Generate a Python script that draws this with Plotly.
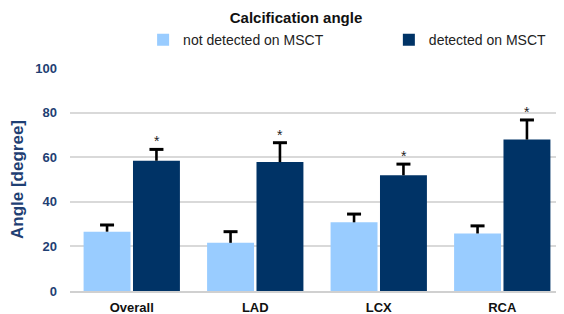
import plotly.graph_objects as go

categories = ["Overall", "LAD", "LCX", "RCA"]
not_detected = [26.6, 21.6, 30.8, 25.8]
not_detected_err = [3.0, 5.0, 3.7, 3.4]
detected = [58.4, 57.8, 51.9, 67.9]
detected_err = [5.1, 8.7, 5.0, 8.8]
series_names = ["not detected on MSCT", "detected on MSCT"]
y_ticks = [0, 20, 40, 60, 80, 100]

LIGHT = "#99CCFF"
DARK = "#003366"
NAVY = "#1F3F73"
FONT = "Liberation Sans, Arial, sans-serif"

# The page body adds an 8px margin, so the figure is drawn 8px smaller
W, H = 556, 306

fig = go.Figure()
series = [
    (series_names[0], not_detected, not_detected_err, LIGHT, "legend", "g1"),
    (series_names[1], detected, detected_err, DARK, "legend2", "g2"),
]
for name, vals, errs, col, leg, grp in series:
    # bar with the error-bar stem only (no caps)
    fig.add_trace(go.Bar(
        x=categories, y=vals, name=name, legend=leg, offsetgroup=grp,
        marker=dict(color=col, line=dict(width=0)),
        error_y=dict(type="data", array=errs, symmetric=False,
                     arrayminus=[0] * len(categories), color="black", thickness=2.6, width=0),
    ))
for name, vals, errs, col, leg, grp in series:
    # top cap of the error bar (T shape)
    fig.add_trace(go.Scatter(
        x=categories, y=[v + e for v, e in zip(vals, errs)], mode="markers",
        offsetgroup=grp, showlegend=False, hoverinfo="skip",
        marker=dict(symbol="line-ew", size=10, color="black",
                    line=dict(color="black", width=3)),
    ))

for i, c in enumerate(categories):
    fig.add_annotation(
        x=c, y=detected[i] + detected_err[i], xref="x", yref="y",
        text="*", showarrow=False, xshift=25, yshift=8,
        font=dict(family=FONT, size=14, color="#222222"),
    )

legend_common = dict(orientation="h", yref="container", y=0.895, yanchor="middle",
                     xref="container", xanchor="left", itemwidth=30,
                     font=dict(family=FONT, size=14, color="#222222"),
                     bgcolor="rgba(0,0,0,0)")

fig.update_layout(
    width=W, height=H,
    margin=dict(l=62, r=0, t=60, b=23, autoexpand=False),
    paper_bgcolor="white", plot_bgcolor="white",
    barmode="group", bargap=0.2, bargroupgap=0.05,
    scattermode="group", scattergap=0.2,
    showlegend=True,
    title=dict(text="Calcification angle", x=0.518, xanchor="center",
               y=0.967, yanchor="middle",
               font=dict(family=FONT, size=15, color="#111111", weight="bold")),
    legend=dict(x=0.243, **legend_common),
    legend2=dict(x=0.685, **legend_common),
    font=dict(family=FONT),
)
fig.update_xaxes(
    showgrid=False, showline=True, linecolor="#D0D0D0", linewidth=1.5,
    tickfont=dict(family=FONT, size=13, color="#111111", weight="bold"), ticks="",
    ticklabelstandoff=4,
)
fig.update_yaxes(
    range=[0, 100], tickvals=y_ticks, showgrid=True, gridcolor="#D9D9D9", gridwidth=1.5,
    zeroline=False, showline=False,
    tickfont=dict(family=FONT, size=13, color=NAVY, weight="bold"),
    ticks="", ticklabelstandoff=12,
    title=dict(text="Angle [degree]", font=dict(family=FONT, size=17, color=NAVY, weight="bold"), standoff=10),
)

fig.write_html("out.html")
